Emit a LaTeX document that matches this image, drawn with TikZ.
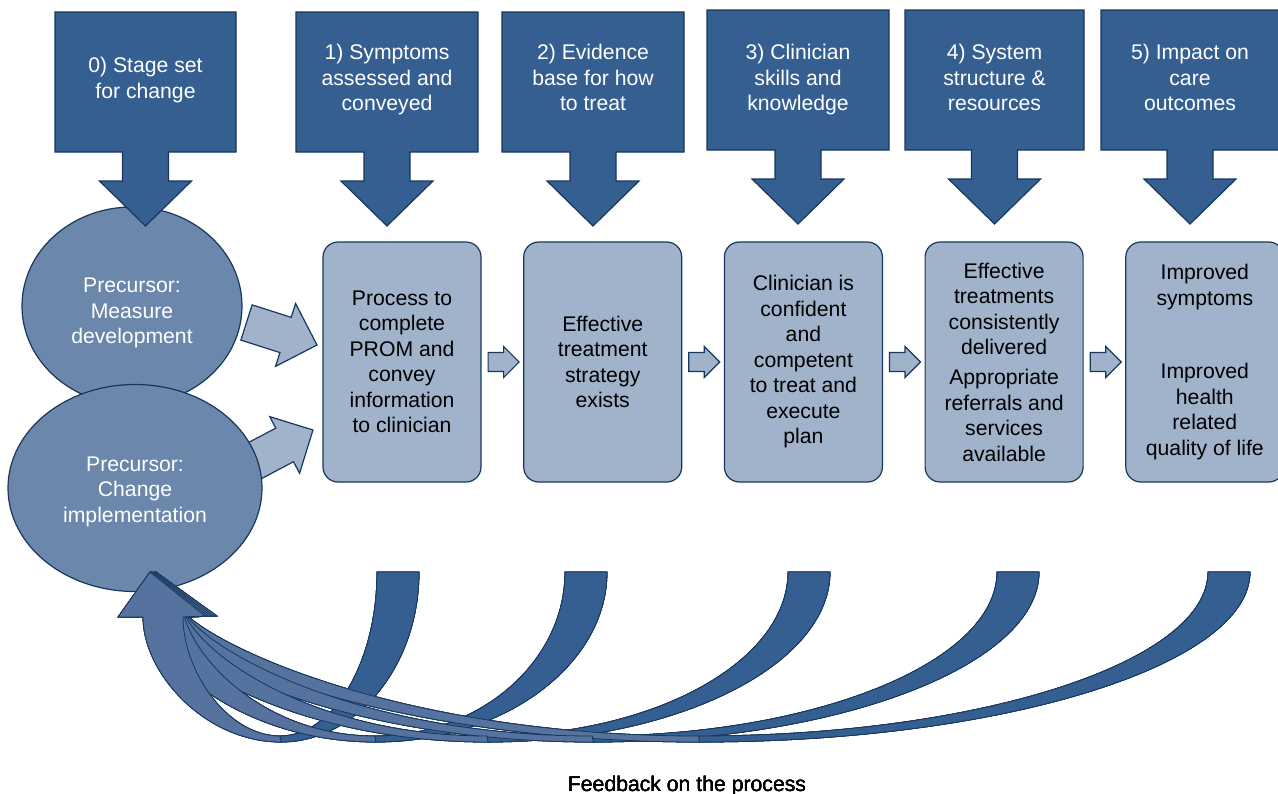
\documentclass[tikz,border=0pt]{standalone}
\usepackage{fontspec}
\setmainfont{Liberation Sans}
\usetikzlibrary{positioning,shapes.geometric}
\definecolor{StageBlue}{HTML}{365F91}
\definecolor{EdgeBlue}{HTML}{17375E}
\definecolor{PrecBlue}{HTML}{6B87AB}
\definecolor{StepBlue}{HTML}{A0B3CB}
\definecolor{BackBlue}{HTML}{55739E}
% box with a down arrow under it: name, left, top, width, text
\newcommand{\StageCallout}[5]{%
  \begin{scope}[shift={(#2,#3)}]
    \filldraw[stagefill] (0,0) -- (#4,0) -- (#4,140)
      -- ({#4/2+23},140) -- ({#4/2+23},169) -- ({#4/2+46},169)
      -- ({#4/2},214) -- ({#4/2-46},169) -- ({#4/2-23},169)
      -- ({#4/2-23},140) -- (0,140) -- cycle;
    \node[stagetext] (#1) at ({#4/2},81.5-#3) {#5\strut};
  \end{scope}}
% block arrow: tail point, angle, length, shaft width, head width
\newcommand{\FatArrow}[5]{%
  \begin{scope}[shift={#1},rotate=#2]
    \filldraw[fatarrow] (0,{-#4/2}) -- ({#3-#5/2},{-#4/2}) -- ({#3-#5/2},{-#5/2})
      -- (#3,0) -- ({#3-#5/2},{#5/2}) -- ({#3-#5/2},{#4/2}) -- (0,{#4/2}) -- cycle;
  \end{scope}}
\tikzset{
  stagefill/.style={fill=StageBlue,draw=EdgeBlue},
  stagetext/.style={text=white,align=center},
  precursor/.style={ellipse,fill=PrecBlue,draw=EdgeBlue},
  prectext/.style={text=white,align=center},
  stepbox/.style={rectangle,rounded corners=7.5pt,fill=StepBlue,draw=EdgeBlue,
    minimum width=79pt,minimum height=120pt,align=center,inner sep=0pt},
  fatarrow/.style={fill=StepBlue,draw=EdgeBlue},
  backdark/.style={fill=StageBlue,draw=EdgeBlue,line width=.4pt},
  backlight/.style={fill=BackBlue,draw=EdgeBlue,line width=.4pt},
}
\begin{document}
\begin{tikzpicture}[x=.5pt,y=-.5pt,line width=.6pt,
    font=\fontsize{10.6}{12.75}\selectfont]
  \useasboundingbox (0,0) rectangle (1278,793);
  % precursors and their arrows into the first step
  \node[precursor,minimum width=110pt,minimum height=99pt] (measure) at (132,306) {};
  \node[prectext] at ([yshift=-3.5pt]measure.center) {Precursor:\\Measure\\development};
  \FatArrow{(246.5,322.5)}{-17.7}{74}{37}{66}
  \FatArrow{(247.5,464.5)}{27.8}{74}{38}{64}
  \node[precursor,minimum width=127pt,minimum height=103.5pt] (change) at (135,488) {};
  \node[prectext] at ([yshift=-1.75pt]change.center) {Precursor:\\Change\\implementation};
  % stages along the top
  \StageCallout{s0}{55}{12}{181}{0) Stage set\\for change}
  \StageCallout{s1}{296}{12}{182}{1) Symptoms\\assessed and\\conveyed}
  \StageCallout{s2}{502}{12}{182}{2) Evidence\\base for how\\to treat}
  \StageCallout{s3}{707}{10}{182}{3) Clinician\\skills and\\knowledge}
  \StageCallout{s4}{905}{10}{179}{4) System\\structure \&\\resources}
  \StageCallout{s5}{1101}{10}{178}{5) Impact on\\care\\outcomes}
  % process steps
  \node[stepbox] (p1) at (402,362)
    {Process to\\complete\\PROM and\\convey\\information\\to clinician};
  \node[stepbox,right=20.75pt of p1] (p2) {Effective\\treatment\\strategy\\exists};
  \node[stepbox,right=20.75pt of p2] (p3)
    {Clinician is\\confident\\and\\competent\\to treat and\\execute\\plan};
  \node[stepbox,right=20.75pt of p3] (p4)
    {Effective\\treatments\\consistently\\delivered\\[2.25pt]Appropriate\\referrals and\\services\\available};
  \node[stepbox,right=20.75pt of p4] (p5)
    {Improved\\symptoms\\[24pt]Improved\\health\\related\\quality of life};
  \foreach \a in {p1,p2,p3,p4}
    \FatArrow{([xshift=3.25pt]\a.east)}{0}{31}{19}{31}
  % feedback arrows back to the precursors
  \foreach \xo/\dd/\bend in {419/0/0,607/1.5/14,830/3/24,1039/4.5/34,1250/6/44} {
    \pgfmathsetmacro{\bo}{(\xo+143+\dd)/2}
    \pgfmathsetmacro{\bi}{(\xo-42+183+\dd)/2}
    \filldraw[backdark] (\xo-42,572) -- (\xo,572)
      .. controls (\xo,665) and ({\bo+0.552*(\xo-\bo)},742) .. (\bo,742)
      -- (\bi,736)
      .. controls ({\bi+0.552*(\xo-42-\bi)},736) and (\xo-42,662) .. (\xo-42,572)
      -- cycle;
  }
  \foreach \xo/\dd/\bend in {1250/6/44,1039/4.5/34,830/3/24,607/1.5/14,419/0/0} {
    \pgfmathsetmacro{\bo}{(\xo+143+\dd)/2}
    \pgfmathsetmacro{\bi}{(\xo-42+183+\dd)/2}
    \filldraw[backlight] (\bo,742)
      .. controls ({\bo-0.552*(\bo-143-\dd)},742) and (143+\dd+\bend,673-\bend/3) .. (143+\dd,617)
      -- (118+\dd,617) -- (150+\dd,572) -- (205+2*\dd,616) -- (183+\dd,617)
      .. controls (183+\dd+\bend,670-\bend/3) and ({\bi-0.552*(\bi-183-\dd)},736) .. (\bi,736)
      -- cycle;
  }
  \node (fb) at (687,786) {Feedback on the process};
\end{tikzpicture}
\end{document}
